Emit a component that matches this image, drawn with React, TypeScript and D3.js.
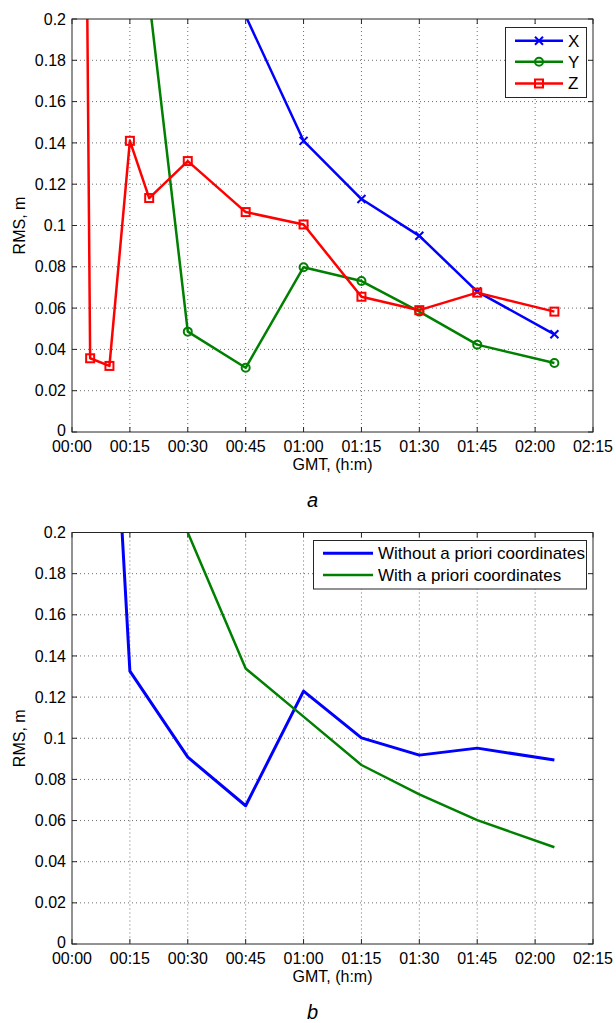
import { useEffect, useRef } from "react";
import * as d3 from "d3";

// time axis in minutes after 00:00 GMT
const minuteTicks = [0, 15, 30, 45, 60, 75, 90, 105, 120, 135];
const rmsTicks = [0, 0.02, 0.04, 0.06, 0.08, 0.1, 0.12, 0.14, 0.16, 0.18, 0.2];

// panel a: RMS per coordinate
const xTimes = [30, 60, 75, 90, 105, 125];
const xRms = [0.262, 0.141, 0.1128, 0.095, 0.068, 0.0473];
const yTimes = [15, 30, 45, 60, 75, 90, 105, 125];
const yRms = [0.29, 0.0486, 0.0311, 0.0798, 0.0731, 0.0583, 0.0423, 0.0334];
const zTimes = [3, 4.7, 9.7, 15, 20, 30, 45, 60, 75, 90, 105, 125];
const zRms = [0.42, 0.0357, 0.032, 0.141, 0.1133, 0.1312, 0.1065, 0.1005, 0.0655, 0.059, 0.0675, 0.0583];

// panel b: with / without a priori coordinates
const withoutTimes = [10, 15, 30, 45, 60, 75, 90, 105, 125];
const withoutRms = [0.3, 0.1326, 0.0908, 0.0672, 0.1229, 0.1002, 0.0918, 0.0952, 0.0894];
const withTimes = [30, 45, 60, 75, 90, 105, 125];
const withRms = [0.2, 0.1339, 0.1105, 0.087, 0.0727, 0.0602, 0.047];

const FONT = "'Liberation Sans', Arial, sans-serif";

type Series = {
  name: string;
  color: string;
  marker: "x" | "o" | "s" | null;
  width: number;
  times: number[];
  values: number[];
};

const fmtTime = (m: number) =>
  `${String(Math.floor(m / 60)).padStart(2, "0")}:${String(m % 60).padStart(2, "0")}`;
const fmtRms = (v: number) => String(+v.toFixed(2));

function drawMarker(g: any, kind: string, cx: number, cy: number, color: string) {
  if (kind === "o") {
    g.append("circle").attr("cx", cx).attr("cy", cy).attr("r", 4)
      .attr("fill", "none").attr("stroke", color).attr("stroke-width", 2);
  } else if (kind === "s") {
    g.append("rect").attr("x", cx - 4).attr("y", cy - 4).attr("width", 8).attr("height", 8)
      .attr("fill", "none").attr("stroke", color).attr("stroke-width", 2);
  } else if (kind === "x") {
    g.append("path")
      .attr("d", `M${cx - 4},${cy - 4}L${cx + 4},${cy + 4}M${cx - 4},${cy + 4}L${cx + 4},${cy - 4}`)
      .attr("stroke", color).attr("stroke-width", 2);
  }
}

function drawPanel(
  svg: any,
  id: string,
  top: number,
  bottom: number,
  series: Series[],
  legend: { x: number; y: number; w: number; h: number; rows: number[]; lineX: [number, number]; textX: number },
  letter: string
) {
  const left = 72;
  const right = 593;
  const x = d3.scaleLinear().domain([0, 135]).range([left, right]);
  const y = d3.scaleLinear().domain([0, 0.2]).range([bottom, top]);
  const g = svg.append("g");

  g.append("defs").append("clipPath").attr("id", id)
    .append("rect").attr("x", left).attr("y", top).attr("width", right - left).attr("height", bottom - top);

  // dotted grid
  const grid = g.append("g").attr("stroke", "#6e6e6e").attr("stroke-width", 1).attr("stroke-dasharray", "1,3");
  minuteTicks.slice(1, -1).forEach((m) => {
    grid.append("line").attr("x1", x(m)).attr("x2", x(m)).attr("y1", top).attr("y2", bottom);
  });
  rmsTicks.slice(1, -1).forEach((v) => {
    grid.append("line").attr("x1", left).attr("x2", right).attr("y1", y(v)).attr("y2", y(v));
  });

  // inward ticks
  const ticks = g.append("g").attr("stroke", "#262626").attr("stroke-width", 1);
  minuteTicks.forEach((m) => {
    ticks.append("line").attr("x1", x(m)).attr("x2", x(m)).attr("y1", bottom).attr("y2", bottom - 5);
    ticks.append("line").attr("x1", x(m)).attr("x2", x(m)).attr("y1", top).attr("y2", top + 5);
  });
  rmsTicks.forEach((v) => {
    ticks.append("line").attr("x1", left).attr("x2", left + 5).attr("y1", y(v)).attr("y2", y(v));
    ticks.append("line").attr("x1", right).attr("x2", right - 5).attr("y1", y(v)).attr("y2", y(v));
  });

  // data
  const plot = g.append("g").attr("clip-path", `url(#${id})`);
  series.forEach((s) => {
    const pts: [number, number][] = s.times.map((t, i) => [t, s.values[i]]);
    const line = d3.line<[number, number]>().x((d) => x(d[0])).y((d) => y(d[1]));
    plot.append("path").datum(pts).attr("d", line).attr("fill", "none")
      .attr("stroke", s.color).attr("stroke-width", s.width).attr("stroke-linejoin", "round");
    if (s.marker) pts.forEach((d) => drawMarker(plot, s.marker as string, x(d[0]), y(d[1]), s.color));
  });

  // box
  g.append("rect").attr("x", left).attr("y", top).attr("width", right - left).attr("height", bottom - top)
    .attr("fill", "none").attr("stroke", "#262626").attr("stroke-width", 1);

  // tick labels
  const lab = g.append("g").attr("font-family", FONT).attr("font-size", 16).attr("fill", "#000");
  minuteTicks.forEach((m) => {
    lab.append("text").attr("x", x(m)).attr("y", bottom + 19.5).attr("text-anchor", "middle").text(fmtTime(m));
  });
  rmsTicks.forEach((v) => {
    lab.append("text").attr("x", left - 6).attr("y", v === 0 ? y(v) - 2 : y(v)).attr("dy", "0.35em")
      .attr("text-anchor", "end").text(fmtRms(v));
  });
  lab.append("text").attr("x", (left + right) / 2).attr("y", bottom + 38).attr("text-anchor", "middle").text("GMT, (h:m)");
  lab.append("text").attr("transform", `translate(25,${(top + bottom) / 2}) rotate(-90)`)
    .attr("text-anchor", "middle").text("RMS, m");

  // legend
  const lg = g.append("g");
  lg.append("rect").attr("x", legend.x).attr("y", legend.y).attr("width", legend.w).attr("height", legend.h)
    .attr("fill", "#fff").attr("stroke", "#262626").attr("stroke-width", 1);
  series.forEach((s, i) => {
    const ry = legend.rows[i];
    lg.append("line").attr("x1", legend.lineX[0]).attr("x2", legend.lineX[1]).attr("y1", ry).attr("y2", ry)
      .attr("stroke", s.color).attr("stroke-width", s.width);
    if (s.marker) drawMarker(lg, s.marker, (legend.lineX[0] + legend.lineX[1]) / 2, ry, s.color);
    lg.append("text").attr("x", legend.textX).attr("y", ry).attr("dy", "0.35em")
      .attr("font-family", FONT).attr("font-size", 17).text(s.name);
  });

  g.append("text").attr("x", (left + right) / 2 - 20).attr("y", bottom + 75).attr("text-anchor", "middle")
    .attr("font-family", FONT).attr("font-size", 20).attr("font-style", "italic").text(letter);
}

const App = () => {
  const ref = useRef<SVGSVGElement>(null);

  useEffect(() => {
    const svg = d3.select(ref.current);
    svg.selectAll("*").remove();

    drawPanel(
      svg,
      "clipA",
      19,
      432,
      [
        { name: "X", color: "#0000ff", marker: "x", width: 2.5, times: xTimes, values: xRms },
        { name: "Y", color: "#008000", marker: "o", width: 2.5, times: yTimes, values: yRms },
        { name: "Z", color: "#ff0000", marker: "s", width: 2.5, times: zTimes, values: zRms },
      ],
      { x: 505.5, y: 27.5, w: 81, h: 70, rows: [40.7, 61.7, 83.5], lineX: [515, 563], textX: 568 },
      "a"
    );

    drawPanel(
      svg,
      "clipB",
      532.5,
      944,
      [
        { name: "Without a priori coordinates", color: "#0000ff", marker: null, width: 3, times: withoutTimes, values: withoutRms },
        { name: "With a priori coordinates", color: "#008000", marker: null, width: 2.5, times: withTimes, values: withRms },
      ],
      { x: 313.5, y: 540.5, w: 273, h: 48.5, rows: [553.3, 575], lineX: [323, 373], textX: 378 },
      "b"
    );
  }, []);

  return (
    <svg
      ref={ref}
      width={616}
      height={1023}
      style={{ position: "absolute", left: 0, top: 0, background: "#fff" }}
    ></svg>
  );
};

export default App;
